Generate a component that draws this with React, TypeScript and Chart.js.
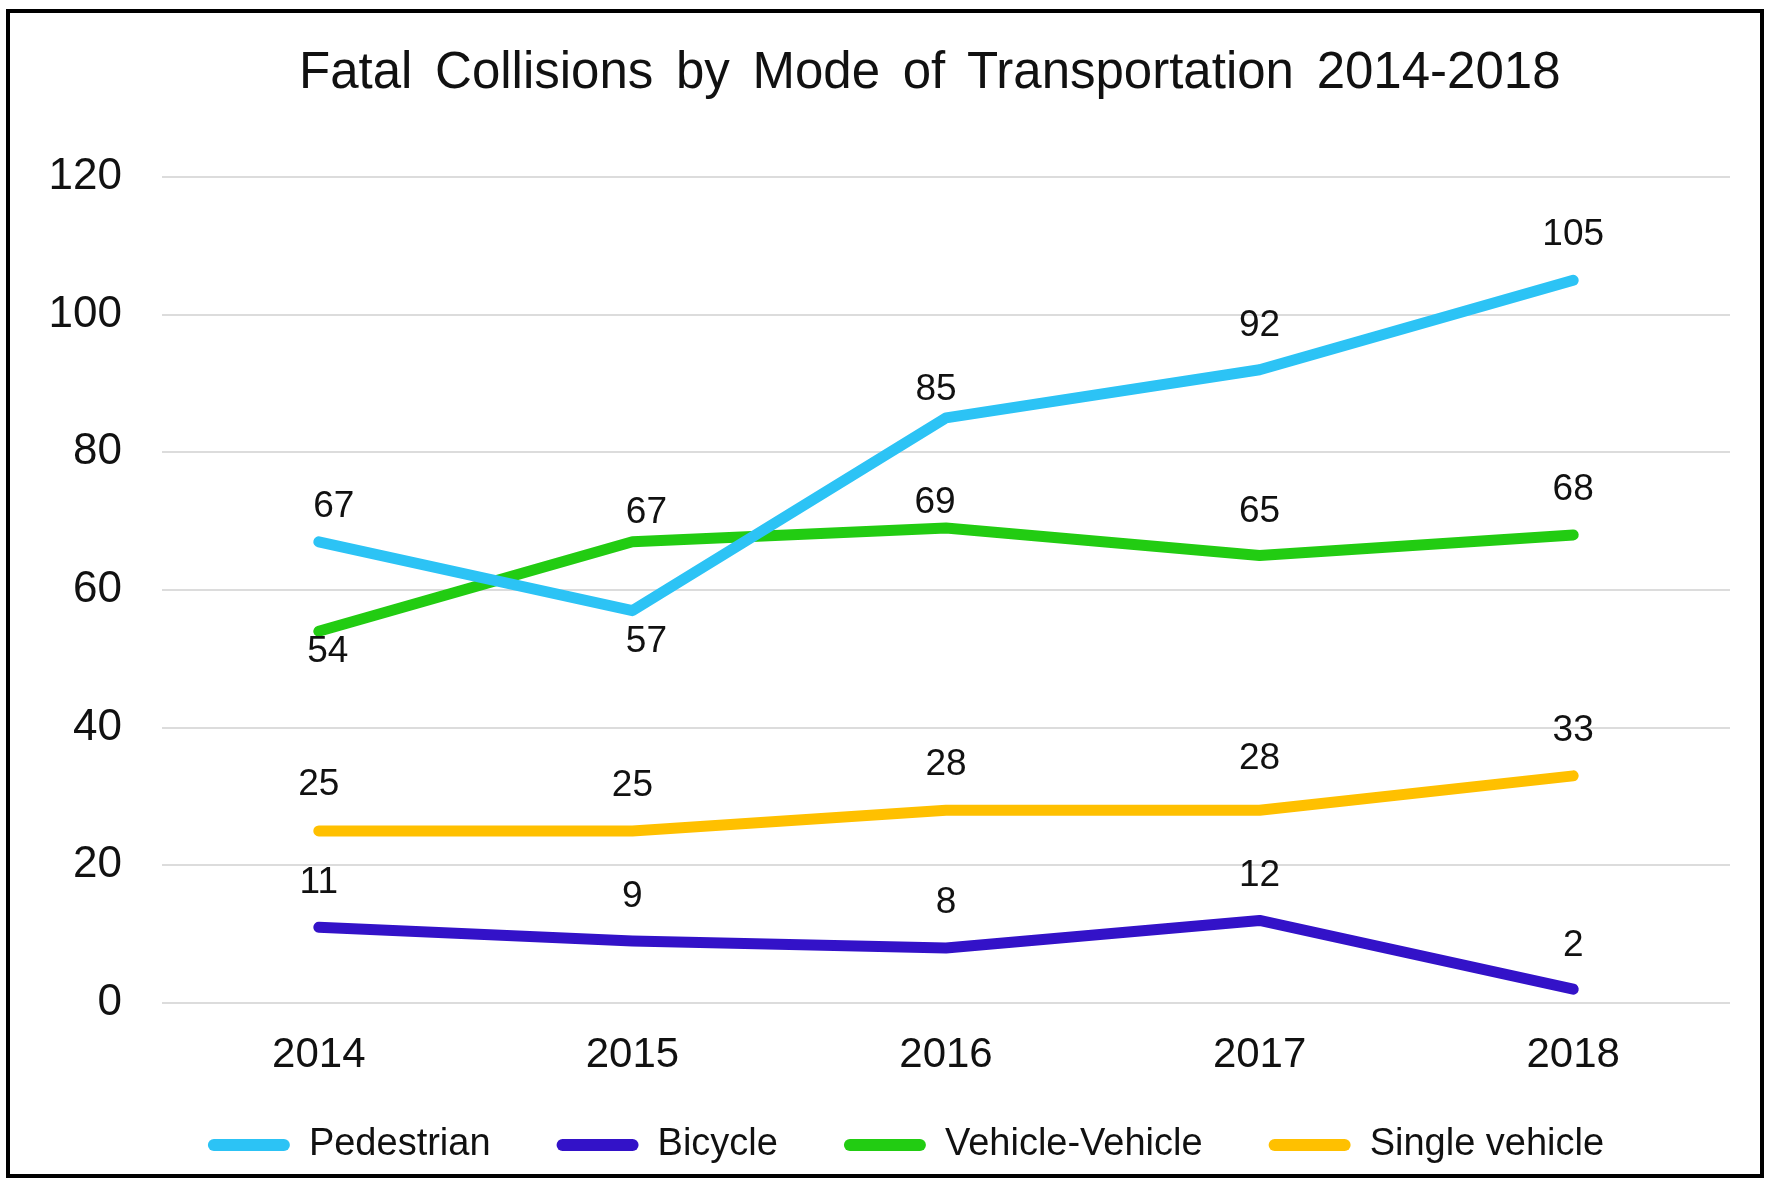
import React, { useEffect, useRef } from "react";
import { Chart, registerables } from "chart.js";

Chart.register(...registerables);

// ---- data ----
const years = ["2014", "2015", "2016", "2017", "2018"];
const pedestrian = [67, 57, 85, 92, 105];
const bicycle = [11, 9, 8, 12, 2];
const vehicleVehicle = [54, 67, 69, 65, 68];
const singleVehicle = [25, 25, 28, 28, 33];
const yMin = 0;
const yMax = 120;
const yStep = 20;
const titleText = "Fatal Collisions by Mode of Transportation 2014-2018";

// ---- styling ----
const FONT = "'Liberation Sans', Arial, Helvetica, sans-serif";
const TEXT = "#111111";
const COLORS = {
  pedestrian: "#2CC3F5",
  bicycle: "#3312C8",
  vehicle: "#22CC12",
  single: "#FFC000",
};

// label offsets (px) from each point, per series
const labelOffsets: Record<string, number[][]> = {
  Pedestrian: [[15, -37], [14, 29], [-10, -30], [0, -46], [0, -47]],
  Bicycle: [[0, -46], [0, -46], [0, -47], [0, -47], [0, -45]],
  "Vehicle-Vehicle": [[9, 18], [14, -31], [-11, -27], [0, -46], [0, -47]],
  "Single vehicle": [[0, -48], [0, -47], [0, -47], [0, -53], [0, -47]],
};

const valueLabelPlugin = {
  id: "valueLabels",
  afterDatasetsDraw(chart: any) {
    const ctx = chart.ctx;
    ctx.save();
    ctx.font = `37px ${FONT}`;
    ctx.fillStyle = TEXT;
    ctx.textAlign = "center";
    ctx.textBaseline = "middle";
    chart.data.datasets.forEach((ds: any, i: number) => {
      const meta = chart.getDatasetMeta(i);
      const offs = labelOffsets[ds.label] || [];
      meta.data.forEach((pt: any, j: number) => {
        const [dx, dy] = offs[j] || [0, -46];
        ctx.fillText(String(ds.data[j]), pt.x + dx, pt.y + dy + 2);
      });
    });
    ctx.restore();
  },
};

// nudge the legend row to the right (it sits off-centre in the original)
const legendShiftPlugin = {
  id: "legendShift",
  afterLayout(chart: any) {
    const lg = chart.legend;
    if (lg) {
      lg.left += 21;
      lg.right += 21;
    }
  },
};

// let the x tick labels overflow their (compact) axis box without being clipped
const noTickClipPlugin = {
  id: "noTickClip",
  beforeDraw(chart: any) {
    const xs = chart.scales && chart.scales.x;
    if (xs) xs._computeLabelArea = () => undefined;
  },
};

function makeDataset(label: string, data: number[], color: string) {
  return {
    label,
    data,
    borderColor: color,
    backgroundColor: color,
    borderWidth: 11,
    borderCapStyle: "round" as const,
    borderJoinStyle: "round" as const,
    pointRadius: 0,
    pointHoverRadius: 0,
    tension: 0,
    fill: false,
  };
}

export default function App() {
  const canvasRef = useRef<HTMLCanvasElement | null>(null);

  useEffect(() => {
    document.body.style.overflow = "hidden";
    const canvas = canvasRef.current;
    if (!canvas) return;
    const chart = new Chart(canvas, {
      type: "line",
      data: {
        labels: years,
        datasets: [
          makeDataset("Pedestrian", pedestrian, COLORS.pedestrian),
          makeDataset("Bicycle", bicycle, COLORS.bicycle),
          makeDataset("Vehicle-Vehicle", vehicleVehicle, COLORS.vehicle),
          makeDataset("Single vehicle", singleVehicle, COLORS.single),
        ],
      },
      options: {
        responsive: false,
        animation: false,
        devicePixelRatio: 1,
        layout: { padding: { top: 164, left: 30, right: 30, bottom: 0 } },
        plugins: {
          title: { display: false },
          tooltip: { enabled: false },
          legend: {
            display: true,
            position: "bottom",
            align: "center",
            labels: {
              font: { family: FONT, size: 38 },
              color: TEXT,
              boxWidth: 82,
              boxHeight: 12,
              padding: 66,
              useBorderRadius: true,
              borderRadius: 6,
              generateLabels: (c: any) =>
                c.data.datasets.map((ds: any, i: number) => ({
                  text: ds.label,
                  fillStyle: ds.borderColor,
                  strokeStyle: ds.borderColor,
                  lineWidth: 0,
                  hidden: false,
                  datasetIndex: i,
                  fontColor: TEXT,
                  borderRadius: 6,
                })),
            },
          },
        },
        scales: {
          x: {
            type: "category",
            offset: true,
            grid: { display: false, drawTicks: false },
            border: { display: false },
            ticks: {
              font: { family: FONT, size: 42 },
              color: TEXT,
              padding: 27,
              maxRotation: 0,
            },
            afterFit: (scale: any) => {
              scale.height = 57;
            },
          },
          y: {
            min: yMin,
            max: yMax,
            grid: { color: "#DCDCDC", lineWidth: 2, drawTicks: false },
            border: { display: false },
            ticks: {
              stepSize: yStep,
              font: { family: FONT, size: 44 },
              color: TEXT,
              padding: 40,
            },
            afterFit: (scale: any) => {
              scale.width = 122;
            },
          },
        },
      },
      plugins: [valueLabelPlugin, legendShiftPlugin, noTickClipPlugin],
    });
    return () => chart.destroy();
  }, []);

  return (
    <div
      style={{
        position: "fixed",
        left: 6,
        top: 9,
        width: 1758,
        height: 1169,
        border: "4px solid #000",
        boxSizing: "border-box",
        background: "#fff",
      }}
    >
      <canvas ref={canvasRef} width={1750} height={1161} style={{ display: "block" }} />
      <div
        style={{
          position: "absolute",
          left: 289,
          top: 32,
          fontFamily: FONT,
          fontSize: 51,
          lineHeight: "51px",
          wordSpacing: "8.5px",
          whiteSpace: "nowrap",
          color: TEXT,
        }}
      >
        {titleText}
      </div>
    </div>
  );
}
